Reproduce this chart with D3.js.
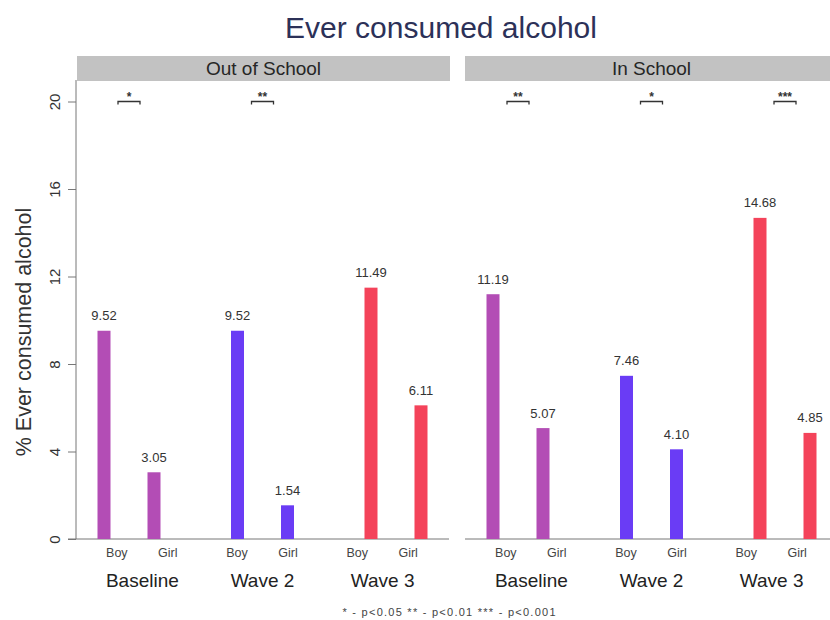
<!DOCTYPE html>
<html>
<head>
<meta charset="utf-8">
<script src="https://cdn.jsdelivr.net/npm/d3@7"></script>
<style>
  body { margin: 0; background: #fff; }
  svg { display: block; font-family: "Liberation Sans", Arial, Helvetica, sans-serif; }
</style>
</head>
<body>
<svg id="chart" width="830" height="620"></svg>
<script>
// ---- data ----
const waves = ["Baseline", "Wave 2", "Wave 3"];
const sexes = ["Boy", "Girl"];
const panelNames = ["Out of School", "In School"];
const outBoy  = [9.52, 9.52, 11.49];
const outGirl = [3.05, 1.54, 6.11];
const inBoy   = [11.19, 7.46, 14.68];
const inGirl  = [5.07, 4.10, 4.85];
const outSig  = ["*", "**", ""];
const inSig   = ["**", "*", "***"];
const yTicks  = [0, 4, 8, 12, 16, 20];
const waveColors = ["#b34db5", "#6a3cf5", "#f4435a"];
const footnote = "* - p<0.05 ** - p<0.01 *** - p<0.001";

// ---- layout ----
const svg = d3.select("#chart");
const y = d3.scaleLinear().domain([0, 20]).range([539, 101.5]);
const color = d3.scaleOrdinal().domain(waves).range(waveColors);
const sexOff = d3.scalePoint().domain(sexes).range([-25, 25]);
const sexLabOff = d3.scalePoint().domain(sexes).range([-25.5, 25.5]);
const fmt = d3.format(".2f");

const panels = [
  { name: panelNames[0], boy: outBoy, girl: outGirl, sig: outSig,
    strip: [77, 450], axis: [68, 449], groups: [129, 396] },
  { name: panelNames[1], boy: inBoy, girl: inGirl, sig: inSig,
    strip: [465, 838], axis: [465, 845], groups: [518, 785] }
];

// title
svg.append("text")
  .attr("x", 441).attr("y", 38)
  .attr("text-anchor", "middle")
  .attr("font-size", 30)
  .attr("fill", "#2c3158")
  .text("Ever consumed alcohol");

// y axis (left panel only)
const yAxis = d3.axisLeft(y).tickValues(yTicks).tickSize(8).tickFormat(d3.format("d"));
const yg = svg.append("g").attr("transform", "translate(76,0)").call(yAxis);
yg.attr("font-family", null).attr("font-size", null);
yg.select(".domain").attr("d", "M0,539V80").attr("stroke", "#777");
yg.selectAll(".tick line").attr("stroke", "#777");
yg.selectAll(".tick text")
  .attr("font-size", 15)
  .attr("fill", "#333")
  .attr("transform", "rotate(-90)")
  .attr("x", 0)
  .attr("y", -21)
  .attr("dy", "0.35em")
  .attr("text-anchor", "middle");

svg.append("text")
  .attr("transform", "translate(31,332) rotate(-90)")
  .attr("text-anchor", "middle")
  .attr("font-size", 21.5)
  .attr("fill", "#333")
  .text("% Ever consumed alcohol");

panels.forEach(p => {
  const g = svg.append("g");
  const x = d3.scalePoint().domain(waves).range(p.groups);
  const mid = x(waves[1]);
  const xl = w => mid + (x(w) - mid) * 0.9;

  // strip
  g.append("rect")
    .attr("x", p.strip[0]).attr("y", 56)
    .attr("width", p.strip[1] - p.strip[0]).attr("height", 25)
    .attr("fill", "#c2c2c2");
  g.append("text")
    .attr("x", (p.strip[0] + p.strip[1]) / 2).attr("y", 75)
    .attr("text-anchor", "middle")
    .attr("font-size", 19)
    .attr("fill", "#262626")
    .text(p.name);

  // baseline axis
  g.append("line")
    .attr("x1", p.axis[0]).attr("x2", p.axis[1])
    .attr("y1", y(0)).attr("y2", y(0))
    .attr("stroke", "#777");

  const rows = [];
  waves.forEach((w, i) => {
    rows.push({ wave: w, sex: "Boy", v: p.boy[i] });
    rows.push({ wave: w, sex: "Girl", v: p.girl[i] });
  });

  const bw = 13;
  g.selectAll("rect.bar").data(rows).join("rect")
    .attr("class", "bar")
    .attr("x", d => x(d.wave) + sexOff(d.sex) - bw / 2)
    .attr("y", d => y(d.v))
    .attr("width", bw)
    .attr("height", d => y(0) - y(d.v))
    .attr("fill", d => color(d.wave));

  g.selectAll("text.val").data(rows).join("text")
    .attr("class", "val")
    .attr("x", d => x(d.wave) + sexOff(d.sex))
    .attr("y", d => y(d.v) - 10.5)
    .attr("text-anchor", "middle")
    .attr("font-size", 13)
    .attr("fill", "#333")
    .text(d => fmt(d.v));

  // sex labels
  g.selectAll("text.sex").data(rows).join("text")
    .attr("class", "sex")
    .attr("x", d => xl(d.wave) + sexLabOff(d.sex))
    .attr("y", 557)
    .attr("text-anchor", "middle")
    .attr("font-size", 12.5)
    .attr("fill", "#444")
    .text(d => d.sex);

  // wave labels
  g.selectAll("text.wave").data(waves).join("text")
    .attr("class", "wave")
    .attr("x", d => xl(d))
    .attr("y", 587)
    .attr("text-anchor", "middle")
    .attr("font-size", 19)
    .attr("fill", "#222")
    .text(d => d);

  // significance brackets
  const sigData = waves.map((w, i) => ({ wave: w, s: p.sig[i] })).filter(d => d.s);
  const bh = 11, by = y(20);
  g.selectAll("path.br").data(sigData).join("path")
    .attr("class", "br")
    .attr("d", d => {
      const cx = x(d.wave);
      return `M${cx - bh},${by + 3}V${by}H${cx + bh}V${by + 3}`;
    })
    .attr("fill", "none")
    .attr("stroke", "#333")
    .attr("stroke-width", 1.3);
  g.selectAll("text.sig").data(sigData).join("text")
    .attr("class", "sig")
    .attr("x", d => x(d.wave))
    .attr("y", by - 1)
    .attr("text-anchor", "middle")
    .attr("font-size", 12)
    .attr("font-weight", "bold")
    .attr("fill", "#333")
    .text(d => d.s);
});

svg.append("text")
  .attr("x", 449).attr("y", 616)
  .attr("text-anchor", "middle")
  .attr("font-size", 11)
  .attr("textLength", 213)
  .attr("lengthAdjust", "spacing")
  .attr("fill", "#444")
  .text(footnote);
</script>
</body>
</html>
